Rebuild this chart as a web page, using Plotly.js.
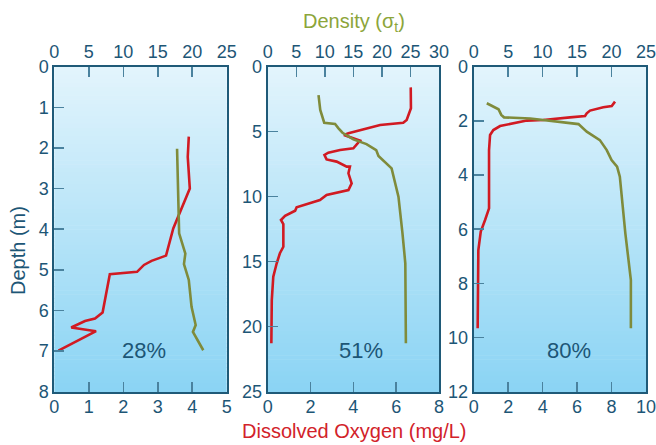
<!DOCTYPE html>
<html>
<head>
<meta charset="utf-8">
<script src="https://cdn.plot.ly/plotly-3.0.1.min.js"></script>
<style>
html,body{margin:0;padding:0;background:#fff;overflow:hidden;}
#chart{width:664px;height:445px;}
</style>
</head>
<body>
<div id="chart"></div>
<script>
// ---- Data ----
// Panel 1 (28%)
var do1 = [3.90, 3.87, 3.93, 3.69, 3.45, 3.24, 2.82, 2.60, 2.40, 1.61, 1.40, 1.18, 0.89, 0.49, 1.21, 0.12];
var doDepth1 = [1.72, 2.22, 3.00, 3.50, 3.98, 4.65, 4.78, 4.88, 5.05, 5.11, 6.05, 6.20, 6.26, 6.42, 6.51, 6.99];
var dens1 = [17.8, 17.9, 18.0, 18.1, 19.0, 18.8, 19.5, 19.9, 20.5, 20.1, 21.6];
var densDepth1 = [2.02, 2.9, 3.61, 4.10, 4.60, 4.86, 5.25, 5.91, 6.36, 6.53, 6.98];

// Panel 2 (51%)
var do2 = [6.68, 6.69, 6.49, 6.33, 5.25, 4.62, 3.77, 3.56, 4.31, 4.00, 3.38, 2.83, 2.65, 2.75, 3.22, 3.69, 3.84, 3.77, 3.92, 3.77, 3.22, 2.75, 2.44, 1.90, 1.35, 1.28, 0.81, 0.62, 0.73, 0.73, 0.57, 0.42, 0.26, 0.19, 0.17];
var doDepth2 = [1.59, 3.20, 4.10, 4.31, 4.48, 4.74, 5.12, 5.25, 5.69, 6.28, 6.41, 6.61, 6.79, 7.13, 7.30, 7.69, 7.69, 8.20, 8.97, 9.49, 9.69, 9.87, 10.26, 10.51, 10.82, 11.08, 11.48, 11.79, 12.10, 13.85, 14.35, 15.12, 16.15, 17.95, 21.28];
var dens2 = [8.9, 9.2, 9.9, 11.8, 12.4, 13.1, 15.0, 17.3, 19.0, 19.4, 21.7, 22.9, 23.6, 24.1, 24.2];
var densDepth2 = [2.18, 3.33, 4.31, 4.41, 4.74, 5.08, 5.59, 5.95, 6.41, 6.87, 7.82, 10.0, 12.8, 15.12, 21.28];

// Panel 3 (80%)
var do3 = [8.20, 8.01, 7.52, 6.75, 6.56, 6.46, 5.59, 4.82, 4.04, 3.08, 2.50, 1.92, 1.53, 1.14, 0.95, 0.89, 0.89, 0.66, 0.41, 0.27, 0.23];
var doDepth3 = [1.29, 1.45, 1.50, 1.62, 1.72, 1.82, 1.87, 1.93, 1.97, 1.99, 2.07, 2.13, 2.19, 2.34, 2.52, 3.08, 5.23, 5.66, 6.09, 6.77, 9.66];
var dens3 = [1.9, 3.6, 4.0, 4.4, 8.2, 10.1, 12.5, 13.5, 15.2, 16.4, 18.3, 19.3, 20.0, 20.8, 21.2, 22.0, 22.8, 22.8];
var densDepth3 = [1.35, 1.57, 1.78, 1.87, 1.91, 1.97, 2.04, 2.09, 2.12, 2.40, 2.71, 3.08, 3.45, 3.69, 4.06, 6.15, 7.88, 9.66];

var pctLabels = ["28%", "51%", "80%"];
var depthMax = [8, 25, 12];
var depthStep = [1, 5, 2];
var doMax = [5, 8, 10];
var doStep = [1, 2, 2];
var densMax = [25, 30, 25];
var densStep = [5, 5, 5];

// ---- Styling ----
var RED = '#d11a22';
var OLIVE = '#7f8b3b';
var AXIS = '#1f5a78';
var TICKC = '#4a829e';
var TXT = '#1d5676';
var FONT = 'Arial, "Liberation Sans", sans-serif';

var doSets = [[do1, doDepth1], [do2, doDepth2], [do3, doDepth3]];
var densSets = [[dens1, densDepth1], [dens2, densDepth2], [dens3, densDepth3]];

var domains = [[0.0828, 0.3456], [0.4081, 0.6692], [0.7221, 0.9848]];
var yDom = [0.1198, 0.8501];

var traces = [];
var layout = {
  width: 664, height: 445,
  margin: {l: 0, r: 8, t: 0, b: 0},
  paper_bgcolor: '#ffffff',
  plot_bgcolor: 'rgba(0,0,0,0)',
  showlegend: false,
  font: {family: FONT, color: TXT, size: 18},
  shapes: [],
  annotations: []
};

function lerp(a, b, t) { return Math.round(a + (b - a) * t); }
var topC = [226, 244, 252], botC = [139, 212, 244];
var NSTRIP = 80;

for (var i = 0; i < 3; i++) {
  var xn = i === 0 ? '' : String(i + 1);
  var xt = String(i + 4);
  var yn = i === 0 ? '' : String(i + 1);
  traces.push({
    x: densSets[i][0], y: densSets[i][1], xaxis: 'x' + xt, yaxis: 'y' + yn,
    type: 'scatter', mode: 'lines', line: {color: OLIVE, width: 2.6}, hoverinfo: 'skip'
  });
  traces.push({
    x: doSets[i][0], y: doSets[i][1], xaxis: 'x' + xn, yaxis: 'y' + yn,
    type: 'scatter', mode: 'lines', line: {color: RED, width: 2.6}, hoverinfo: 'skip'
  });
  var common = {
    showgrid: false, zeroline: false, showline: true, linecolor: AXIS, linewidth: 2,
    ticks: 'inside', ticklen: 10, tickwidth: 1.5, tickcolor: TICKC,
    tickfont: {family: FONT, size: 18, color: TXT}, fixedrange: true,
    ticklabeloverflow: 'allow'
  };
  layout['xaxis' + xn] = Object.assign({}, common, {
    domain: domains[i], anchor: 'y' + yn, side: 'bottom',
    range: [0, doMax[i]], dtick: doStep[i], tick0: 0, ticklabelstandoff: -2
  });
  var topAxis = Object.assign({}, common, {
    overlaying: 'x' + xn, anchor: 'y' + yn, side: 'top',
    range: [0, densMax[i]], dtick: densStep[i], tick0: 0
  });
  if (i === 2) {
    // the last label at the right edge is drawn as a paper annotation below
    var tv = [];
    for (var v = 0; v < densMax[i]; v += densStep[i]) tv.push(v);
    topAxis.tickmode = 'array';
    topAxis.tickvals = tv;
  }
  layout['xaxis' + xt] = topAxis;
  layout['yaxis' + yn] = Object.assign({}, common, {
    domain: yDom, anchor: 'x' + xn, mirror: true,
    range: [depthMax[i], 0], dtick: depthStep[i], tick0: 0
  });
  // gradient background strips
  for (var s = 0; s < NSTRIP; s++) {
    var t = s / (NSTRIP - 1);
    var c = 'rgb(' + lerp(topC[0], botC[0], t) + ',' + lerp(topC[1], botC[1], t) + ',' + lerp(topC[2], botC[2], t) + ')';
    layout.shapes.push({
      type: 'rect', layer: 'below', xref: 'x' + xn + ' domain', yref: 'y' + yn + ' domain',
      x0: 0, x1: 1, y0: 1 - (s + 1) / NSTRIP - 0.002, y1: 1 - s / NSTRIP,
      fillcolor: c, line: {width: 0}
    });
  }
  var pxPos = [0.52, 0.545, 0.555];
  layout.annotations.push({
    text: pctLabels[i], xref: 'x' + xn + ' domain', yref: 'y' + yn + ' domain',
    x: pxPos[i], y: 0.127, showarrow: false, xanchor: 'center', yanchor: 'middle',
    font: {family: FONT, size: 22, color: TXT}
  });
}

// right-edge density tick label of panel 3 (paper reference, at the panel's right edge)
layout.annotations.push({
  text: String(densMax[2]), xref: 'paper', yref: 'paper',
  x: domains[2][1], y: 0.884, showarrow: false, xanchor: 'center', yanchor: 'middle',
  borderpad: 0, borderwidth: 0,
  font: {family: FONT, size: 18, color: TXT}
});

layout.annotations.push({
  text: 'Density (σ<sub>t</sub>)', xref: 'paper', yref: 'paper',
  x: 0.5396, y: 0.949, showarrow: false, xanchor: 'center', yanchor: 'middle',
  font: {family: FONT, size: 20, color: '#8ca53a'}
});
layout.annotations.push({
  text: 'Dissolved Oxygen (mg/L)', xref: 'paper', yref: 'paper',
  x: 0.541, y: 0.032, showarrow: false, xanchor: 'center', yanchor: 'middle',
  font: {family: FONT, size: 20, color: '#d2222a'}
});
layout.annotations.push({
  text: 'Depth (m)', xref: 'paper', yref: 'paper', textangle: -90,
  x: 0.0275, y: 0.436, showarrow: false, xanchor: 'center', yanchor: 'middle',
  font: {family: FONT, size: 20, color: TXT}
});

Plotly.newPlot('chart', traces, layout, {staticPlot: true, displayModeBar: false});
</script>
</body>
</html>
